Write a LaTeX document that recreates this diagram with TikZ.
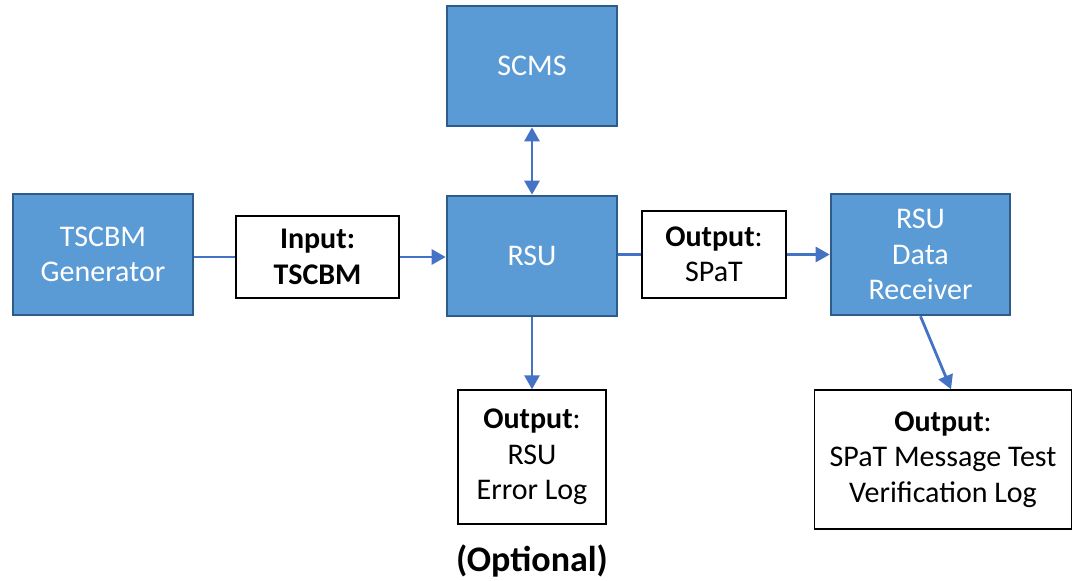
\documentclass[tikz,border=0pt]{standalone}
\usepackage{fontspec}
\setmainfont{Carlito}
\usetikzlibrary{arrows.meta}
\definecolor{boxfill}{HTML}{5B9BD5}
\definecolor{boxline}{HTML}{2E5C8A}
\definecolor{wire}{HTML}{4472C4}
\begin{document}
\begin{tikzpicture}[x=1pt,y=-1pt,
  bluebox/.style={draw=boxline,line width=2.6pt,fill=boxfill,text=white,inner sep=0pt,
    align=center,font=\fontsize{30}{35.5}\selectfont},
  whitebox/.style={draw=black,line width=1.4pt,fill=white,text=black,inner sep=0pt,
    align=center,font=\fontsize{30}{35.5}\selectfont},
  wireline/.style={draw=wire,line width=2.8pt},
  wirearrow/.style={wireline,-{Triangle[length=14pt,width=15pt]}},
  wireboth/.style={wireline,{Triangle[length=14pt,width=15pt]}-{Triangle[length=14pt,width=15pt]}}]
\useasboundingbox (0,0) rectangle (1074,581);

\node[bluebox,minimum width=170pt,minimum height=120pt] (scms) at (532,66) {SCMS};
\node[bluebox,minimum width=180pt,minimum height=121pt] (gen) at (103,254.5) {TSCBM\\Generator};
\node[whitebox,minimum width=163pt,minimum height=82pt] (inp) at (317.5,257) {\bfseries Input:\\\bfseries TSCBM};
\node[bluebox,minimum width=170pt,minimum height=120pt] (rsu) at (532,256) {RSU};
\node[whitebox,minimum width=144pt,minimum height=87pt] (outs) at (714,254.5) {\textbf{Output}:\\SPaT};
\node[bluebox,minimum width=179pt,minimum height=121pt] (recv) at (920.5,254.5) {RSU\\Data\\Receiver};
\node[whitebox,minimum width=148pt,minimum height=134pt] (err) at (532,457) {\textbf{Output}:\\RSU\\Error Log};
\node[whitebox,minimum width=257pt,minimum height=139pt] (ver) at (943,459.5) {\textbf{Output}:\\SPaT Message Test\\Verification Log};
\node[font=\fontsize{36}{40}\selectfont\bfseries] (opt) at (532,561) {(Optional)};

\draw[wireboth] (scms.south) -- (rsu.north);
\draw[wireline] (gen.east |- inp.west) -- (inp.west);
\draw[wirearrow] (inp.east) -- (inp.east -| rsu.west);
\draw[wireline] (rsu.east |- outs.west) -- (outs.west);
\draw[wirearrow] (outs.east) -- (outs.east -| recv.west);
\draw[wirearrow] (rsu.south) -- (err.north);
\draw[wirearrow] (recv.south) -- ([xshift=8pt]ver.north);
\end{tikzpicture}
\end{document}
